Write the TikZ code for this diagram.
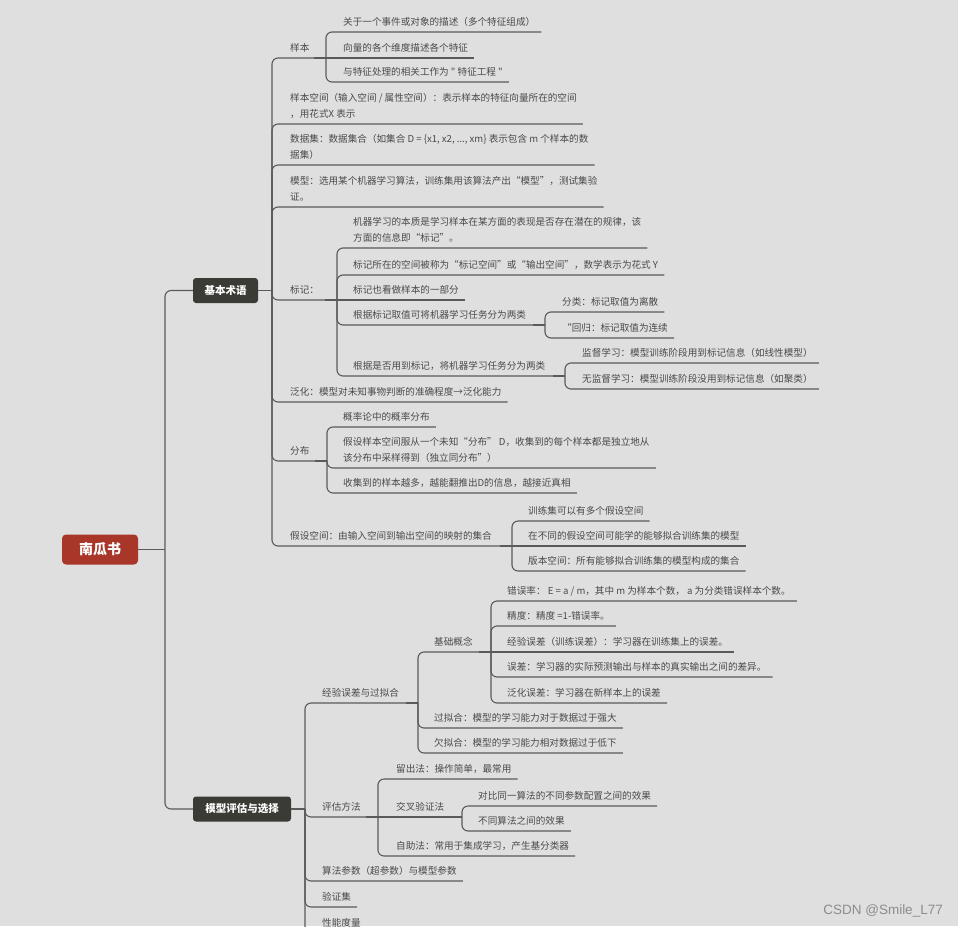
\documentclass[tikz,border=0pt]{standalone}
\usepackage{fontspec}
\newfontfamily\cjk{Noto Sans CJK SC}
\newfontfamily\wmfont{Liberation Sans}
\definecolor{bgc}{HTML}{DFDFDF}
\definecolor{linec}{HTML}{5A5A5A}
\definecolor{txtc}{HTML}{4A4A4A}
\definecolor{rootc}{HTML}{A8372A}
\definecolor{mainc}{HTML}{3B3B36}
\definecolor{wmc}{HTML}{8C8C8C}
\newcommand\mtopic[4]{\node[txt] (#1) at (#2,#3-7) {#4};\path (#1.east |- 0,#3) ++(6,0) coordinate (#1-o);}
\newcommand\mtopicb[5]{\node[txt] (#1) at (#2,#3-7) {#4};\coordinate (#1-o) at (#5,#3);}
\newcommand\mtopicii[5]{\node[txt] (#1) at (#2,#3-22.5) {#4};\node[txt] (#1-b) at (#2,#3-7) {#5};\path (#1.east |- 0,#3) ++(6,0) coordinate (#1-o);}
\begin{document}
\begin{tikzpicture}[x=1pt,y=-1pt,
  txt/.style={font=\cjk\fontsize{9.6}{12}\selectfont, text=txtc, inner sep=0pt, anchor=base west},
  ln/.style={draw=linec, line width=1.1pt, rounded corners=6pt},
  thk/.style={draw=linec, line width=1.9pt},
  mainbox/.style={fill=mainc, rounded corners=3pt, text=white, font=\cjk\bfseries\fontsize{10.5}{12}\selectfont, minimum height=25pt, inner xsep=0pt},
  rootbox/.style={fill=rootc, rounded corners=4pt, text=white, font=\cjk\bfseries\fontsize{14}{16}\selectfont, minimum width=76pt, minimum height=30pt, inner xsep=0pt},
]
\useasboundingbox (0,0) rectangle (958,926);
\fill[bgc] (0,0) rectangle (958,926);
\clip (0,0) rectangle (958,926);

% main nodes
\node[rootbox] (root) at (100,549.5) {南瓜书};
\node[mainbox, minimum width=65pt] (jb) at (225.5,290.5) {基本术语};
\node[mainbox, minimum width=98pt] (mp) at (242,809) {模型评估与选择};

% ---- 基本术语 children
\mtopicb{yb}{290}{58}{样本}{326}
\mtopicii{ybkj}{290}{124}{样本空间（输入空间 / 属性空间）：表示样本的特征向量所在的空间}{，用花式X 表示}
\mtopicii{sjj}{290}{165}{数据集：数据集合（如集合 D = \{x1, x2, ..., xm\} 表示包含 m 个样本的数}{据集）}
\mtopicii{mx}{290}{207}{模型：选用某个机器学习算法，训练集用该算法产出“模型”，测试集验}{证。}
\mtopicb{bj}{290}{300}{标记：}{337}
\mtopic{fh}{290}{402}{泛化：模型对未知事物判断的准确程度→泛化能力}
\mtopicb{fb}{290}{461}{分布}{327}
\mtopicb{jskj}{290}{546}{假设空间：由输入空间到输出空间的映射的集合}{512}

% 样本
\mtopic{yba}{343}{32}{关于一个事件或对象的描述（多个特征组成）}
\mtopic{ybb}{343}{58}{向量的各个维度描述各个特征}
\mtopic{ybc}{343}{82}{与特征处理的相关工作为 " 特征工程 "}

% 标记
\mtopicii{bja}{353}{248}{机器学习的本质是学习样本在某方面的表现是否存在潜在的规律，该}{方面的信息即“标记”。}
\mtopic{bjb}{353}{275}{标记所在的空间被称为“标记空间”或“输出空间”，数学表示为花式 Y}
\mtopic{bjc}{353}{300}{标记也看做样本的一部分}
\mtopicb{bjd}{353}{325}{根据标记取值可将机器学习任务分为两类}{545}
\mtopicb{bje}{353}{376}{根据是否用到标记，将机器学习任务分为两类}{565}
\mtopic{fla}{562}{312}{分类：标记取值为离散}
\mtopic{flb}{562}{338}{“回归：标记取值为连续}
\mtopic{jda}{582}{363}{监督学习：模型训练阶段用到标记信息（如线性模型）}
\mtopic{jdb}{582}{389}{无监督学习：模型训练阶段没用到标记信息（如聚类）}

% 分布
\mtopic{fba}{343}{427}{概率论中的概率分布}
\mtopicii{fbb}{343}{468}{假设样本空间服从一个未知“分布” D，收集到的每个样本都是独立地从}{该分布中采样得到（独立同分布”）}
\mtopic{fbc}{343}{493}{收集到的样本越多，越能翻推出D的信息，越接近真相}

% 假设空间
\mtopic{jsa}{528}{521}{训练集可以有多个假设空间}
\mtopic{jsb}{528}{546}{在不同的假设空间可能学的能够拟合训练集的模型}
\mtopic{jsc}{528}{571}{版本空间：所有能够拟合训练集的模型构成的集合}

% ---- 模型评估与选择 children
\mtopicb{jy}{322}{703}{经验误差与过拟合}{418}
\mtopicb{pg}{322}{817}{评估方法}{378}
\mtopic{sf}{322}{881}{算法参数（超参数）与模型参数}
\mtopic{yzj}{322}{907}{验证集}
\mtopic{xn}{322}{933}{性能度量}

\mtopicb{jc}{434}{652}{基础概念}{491}
\mtopic{gn}{434}{728}{过拟合：模型的学习能力对于数据过于强大}
\mtopic{qn}{434}{753}{欠拟合：模型的学习能力相对数据过于低下}

\mtopic{jca}{507}{601}{错误率： E = a / m，其中 m 为样本个数， a 为分类错误样本个数。}
\mtopic{jcb}{507}{626}{精度：精度 =1-错误率。}
\mtopic{jcc}{507}{652}{经验误差（训练误差）：学习器在训练集上的误差。}
\mtopic{jcd}{507}{677}{误差：学习器的实际预测输出与样本的真实输出之间的差异。}
\mtopic{jce}{507}{703}{泛化误差：学习器在新样本上的误差}

\mtopic{pga}{396}{779}{留出法：操作简单，最常用}
\mtopicb{pgb}{396}{817}{交叉验证法}{462}
\mtopic{pgc}{396}{856}{自助法：常用于集成学习，产生基分类器}
\mtopic{jxa}{478}{806}{对比同一算法的不同参数配置之间的效果}
\mtopic{jxb}{478}{831}{不同算法之间的效果}

% ---- connectors
\coordinate (root-o) at (165,549.5);
\draw[ln] (root.east) -- (root-o);
\draw[ln] (root-o) |- (jb.west);
\draw[ln] (root-o) |- (mp.west);

\coordinate (jb-o) at (272,290.5);
\draw[ln] (jb.east) -- (jb-o);
\foreach \c in {yb,ybkj,sjj,mx,bj,fh,fb,jskj} \draw[ln] (jb-o) |- (\c-o);

\draw[ln] (yb-o) |- (yba-o);
\draw[ln] (yb-o) -- (ybb-o);
\draw[ln] (yb-o) |- (ybc-o);

\draw[ln] (bj-o) |- (bja-o);
\draw[ln] (bj-o) |- (bjb-o);
\draw[ln] (bj-o) -- (bjc-o);
\draw[ln] (bj-o) |- (bjd-o);
\draw[ln] (bj-o) |- (bje-o);
\draw[ln] (bjd-o) |- (fla-o);
\draw[ln] (bjd-o) |- (flb-o);
\draw[ln] (bje-o) |- (jda-o);
\draw[ln] (bje-o) |- (jdb-o);

\draw[ln] (fb-o) |- (fba-o);
\draw[ln] (fb-o) |- (fbb-o);
\draw[ln] (fb-o) |- (fbc-o);

\draw[ln] (jskj-o) |- (jsa-o);
\draw[ln] (jskj-o) -- (jsb-o);
\draw[ln] (jskj-o) |- (jsc-o);

\coordinate (mp-o) at (305,809);
\draw[ln] (mp.east) -- (mp-o);
\foreach \c in {jy,pg,sf,yzj,xn} \draw[ln] (mp-o) |- (\c-o);

\draw[ln] (jy-o) |- (jc-o);
\draw[ln] (jy-o) |- (gn-o);
\draw[ln] (jy-o) |- (qn-o);
\draw[ln] (jc-o) |- (jca-o);
\draw[ln] (jc-o) |- (jcb-o);
\draw[ln] (jc-o) -- (jcc-o);
\draw[ln] (jc-o) |- (jcd-o);
\draw[ln] (jc-o) |- (jce-o);

\draw[ln] (pg-o) |- (pga-o);
\draw[ln] (pg-o) -- (pgb-o);
\draw[ln] (pg-o) |- (pgc-o);
\draw[ln] (pgb-o) |- (jxa-o);
\draw[ln] (pgb-o) |- (jxb-o);

% darker stubs at the brackets
\foreach \c in {yb,bj,bjd,bje,fb,jskj,jy,jc,pg,pgb,jb,mp} \draw[thk] (\c-o) -- ++(-12,0);

% watermark
\node[font=\wmfont\fontsize{13.5}{15}\selectfont, text=wmc, anchor=base east, inner sep=0pt] (wm) at (943,914) {CSDN @Smile\_L77};
\end{tikzpicture}
\end{document}
